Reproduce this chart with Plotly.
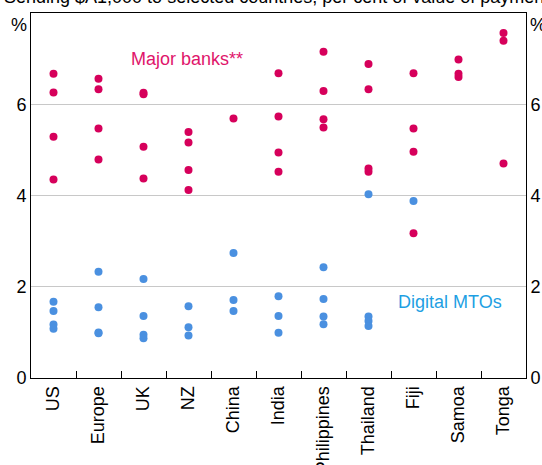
import plotly.graph_objects as go

categories = ["US", "Europe", "UK", "NZ", "China", "India", "Philippines",
              "Thailand", "Fiji", "Samoa", "Tonga"]

major_banks = {
    "US": [6.67, 6.26, 5.29, 4.35],
    "Europe": [6.56, 6.33, 5.47, 4.79],
    "UK": [6.25, 6.22, 5.07, 4.37],
    "NZ": [5.39, 5.16, 4.56, 4.12],
    "China": [5.69],
    "India": [6.68, 5.73, 4.94, 4.52],
    "Philippines": [7.15, 6.29, 5.67, 5.49],
    "Thailand": [6.88, 6.33, 4.59, 4.52],
    "Fiji": [6.68, 5.47, 4.96, 3.17],
    "Samoa": [6.98, 6.67, 6.60],
    "Tonga": [7.56, 7.39, 4.70],
}

digital_mtos = {
    "US": [1.67, 1.47, 1.17, 1.08],
    "Europe": [2.33, 1.55, 1.00, 0.98],
    "UK": [2.17, 1.36, 0.95, 0.87],
    "NZ": [1.57, 1.11, 0.93],
    "China": [2.74, 1.71, 1.47],
    "India": [1.79, 1.36, 0.99],
    "Philippines": [2.43, 1.73, 1.35, 1.18],
    "Thailand": [4.03, 1.35, 1.25, 1.14],
    "Fiji": [3.88],
    "Samoa": [],
    "Tonga": [],
}

y_ticks = [0, 2, 4, 6]
title_text = "Sending $A1,000 to selected countries, per cent of value of payment*"

RED = "#D6005B"
BLUE = "#4A90E0"
FONT = "Liberation Sans, Arial, sans-serif"
FS = 18


def flatten(d):
    xs, ys = [], []
    for c in categories:
        for v in d[c]:
            xs.append(c)
            ys.append(v)
    return xs, ys


bx, by = flatten(major_banks)
mx, my = flatten(digital_mtos)

fig = go.Figure()
fig.add_trace(go.Scatter(x=bx, y=by, mode="markers", name="Major banks",
                         marker=dict(color=RED, size=8), showlegend=False))
fig.add_trace(go.Scatter(x=mx, y=my, mode="markers", name="Digital MTOs",
                         marker=dict(color=BLUE, size=8), showlegend=False))
# invisible trace for right axis
fig.add_trace(go.Scatter(x=[categories[0]], y=[0], yaxis="y2", mode="markers",
                         marker=dict(opacity=0), showlegend=False, hoverinfo="skip"))

fig.update_layout(
    width=542, height=465,
    margin=dict(l=31, r=16, t=13, b=87),
    paper_bgcolor="white", plot_bgcolor="white",
    font=dict(family=FONT, size=FS, color="black"),
    xaxis=dict(
        type="category", categoryorder="array", categoryarray=categories,
        tickangle=-90, ticks="inside", ticklen=7, tickcolor="black",
        tickson="boundaries", showline=True, linecolor="black", linewidth=1,
        mirror=True, showgrid=False, range=[-0.5, 10.5], automargin=False,
        tickfont=dict(size=FS),
    ),
    yaxis=dict(
        range=[0, 8], tickvals=y_ticks, showgrid=True, gridcolor="#C8C8C8",
        gridwidth=1, zeroline=False, showline=True, linecolor="black",
        linewidth=1, ticks="", tickfont=dict(size=FS), automargin=False,
    ),
    yaxis2=dict(
        range=[0, 8], tickvals=y_ticks, overlaying="y", side="right",
        showgrid=False, zeroline=False, showline=True, linecolor="black",
        linewidth=1, ticks="", tickfont=dict(size=FS), automargin=False,
    ),
)

fig.add_annotation(text="Major banks**", x=2.97, y=7.0, xref="x", yref="y",
                   showarrow=False, font=dict(color="#E0156B", size=FS))
fig.add_annotation(text="Digital MTOs", x=8.81, y=1.66, xref="x", yref="y",
                   showarrow=False, font=dict(color="#1E9FE3", size=FS))
fig.add_annotation(text="%", x=0, y=8, xref="paper", yref="y", xanchor="right",
                   yanchor="top", xshift=-2, showarrow=False, font=dict(size=FS))
fig.add_annotation(text="%", x=1, y=8, xref="paper", yref="y", xanchor="left",
                   yanchor="top", xshift=2, showarrow=False, font=dict(size=FS))
fig.add_annotation(text=title_text, x=-29 / 495, y=1.011, xref="paper", yref="paper",
                   xanchor="left", yanchor="bottom", showarrow=False,
                   font=dict(size=FS))

fig.write_html("out.html", config={"displayModeBar": False},
               post_script="document.body.style.margin='0';document.body.style.padding='0';")
